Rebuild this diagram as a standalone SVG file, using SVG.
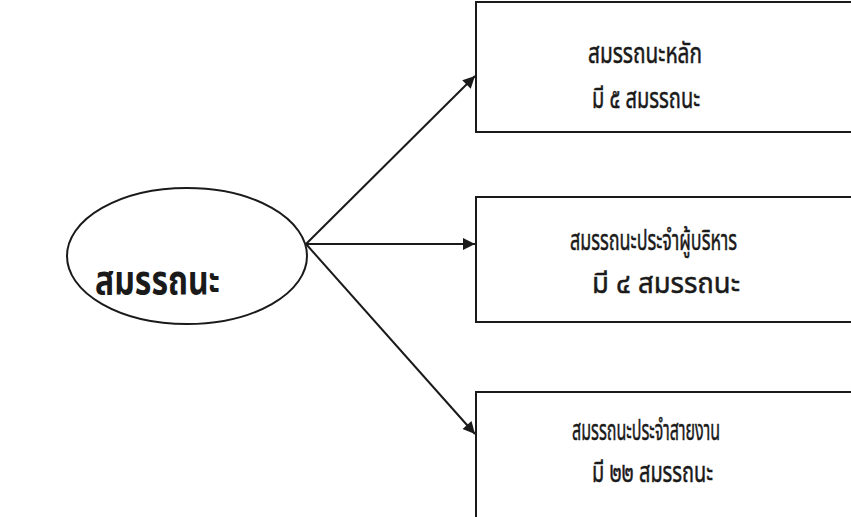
<svg xmlns="http://www.w3.org/2000/svg" width="851" height="517" viewBox="0 0 851 517">
<style>
.box{fill:#fff;stroke:#1a1a1a;stroke-width:2}
.conn{stroke:#1a1a1a;stroke-width:2;fill:none}
.t{font-family:"Noto Sans Thai","Noto Sans","DejaVu Sans",sans-serif;font-size:28px;fill:#1a1a1a;stroke:#1a1a1a;stroke-width:0.5}
.big{font-family:"Noto Sans Thai","Noto Sans","DejaVu Sans",sans-serif;font-size:40px;font-weight:bold;fill:#1a1a1a}
</style>
<defs>
<marker id="ah" viewBox="0 0 10 10" refX="10" refY="5" markerWidth="7" markerHeight="6" markerUnits="strokeWidth" orient="auto">
<path d="M0,0 L10,5 L0,10 z" fill="#1a1a1a"/>
</marker>
</defs>
<rect width="851" height="517" fill="#fff"/>
<g id="connectors">
<line class="conn" x1="306" y1="244" x2="475" y2="76" marker-end="url(#ah)"/>
<line class="conn" x1="306" y1="244" x2="475" y2="244" marker-end="url(#ah)"/>
<line class="conn" x1="306" y1="244" x2="475" y2="434" marker-end="url(#ah)"/>
</g>
<g id="center">
<ellipse cx="187" cy="256" rx="120" ry="68" fill="none" stroke="#1a1a1a" stroke-width="2"/>
<text class="big" x="95" y="294" textLength="125" lengthAdjust="spacingAndGlyphs">สมรรถนะ</text>
</g>
<g id="box1">
<rect class="box" x="476" y="2" width="390" height="130"/>
<text class="t" x="588" y="63" textLength="114" lengthAdjust="spacingAndGlyphs">สมรรถนะหลัก</text>
<text class="t" x="592" y="108" textLength="108" lengthAdjust="spacingAndGlyphs">มี ๕ สมรรถนะ</text>
</g>
<g id="box2">
<rect class="box" x="476" y="197" width="390" height="125"/>
<text class="t" x="570" y="250" textLength="167" lengthAdjust="spacingAndGlyphs">สมรรถนะประจำผู้บริหาร</text>
<text class="t" x="592" y="293" textLength="148" lengthAdjust="spacingAndGlyphs">มี  ๔ สมรรถนะ</text>
</g>
<g id="box3">
<rect class="box" x="476" y="392" width="390" height="140"/>
<text class="t" x="572" y="440" textLength="148" lengthAdjust="spacingAndGlyphs">สมรรถนะประจำสายงาน</text>
<text class="t" x="592" y="482" textLength="121" lengthAdjust="spacingAndGlyphs">มี ๒๒ สมรรถนะ</text>
</g>
</svg>
